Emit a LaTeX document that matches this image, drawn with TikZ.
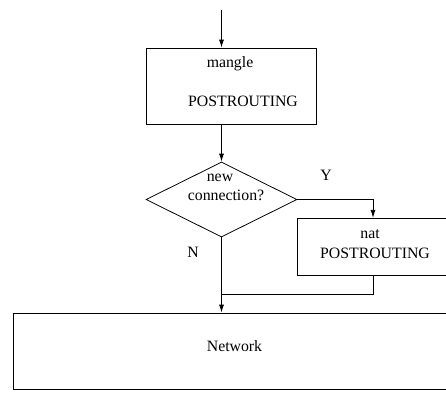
\documentclass[tikz,border=0pt]{standalone}
\usepackage{fontspec}
\setmainfont{Liberation Serif}
\usetikzlibrary{shapes.geometric,arrows.meta}
\begin{document}
\begin{tikzpicture}[x=1pt,y=-1pt,
  box/.style={draw,line width=0.8pt,rectangle,inner sep=0pt},
  lbl/.style={inner sep=0pt,font=\fontsize{15.8}{18}\selectfont},
  conn/.style={line width=0.8pt},
  arr/.style={conn,-{Latex[length=8pt,width=5pt]}}]
\useasboundingbox (0,0) rectangle (446,392);
\clip (0,0) rectangle (446,392);
% boxes
\node[box,minimum width=170pt,minimum height=76pt] (mangle) at (231,86) {};
\node[draw,line width=0.8pt,diamond,minimum width=151pt,minimum height=75pt,inner sep=0pt] (dia) at (221.5,199.5) {};
\node[box,minimum width=170pt,minimum height=57.5pt] (nat) at (382,247) {};
\node[box,minimum width=460pt,minimum height=76pt] (net) at (243,351) {};
% texts
\node[lbl] (t1) at (230,64) {mangle};
\node[lbl] (t2) at (243,101) {POSTROUTING};
\node[lbl] (t3) at (220,178) {new};
\node[lbl] (t4) at (226,195) {connection?};
\node[lbl] (t5) at (326,175) {Y};
\node[lbl] (t6) at (193,252) {N};
\node[lbl] (t7) at (370,234) {nat};
\node[lbl] (t8) at (375,253) {POSTROUTING};
\node[lbl] (t9) at (234.5,346) {Network};
% coordinates
\coordinate (in) at (221.5,10);
\coordinate (nx) at (373,0);
\coordinate (merge) at (221.5,294);
% connectors
\draw[arr] (in) -- (in |- mangle.north);
\draw[arr] (in |- mangle.south) -- (dia.north);
\draw[arr] (dia.east) -- (dia.east -| nx) -- (nx |- nat.north);
\draw[arr] (dia.south) -- (dia.south |- net.north);
\draw[conn] (nx |- nat.south) |- (merge);
\end{tikzpicture}
\end{document}
